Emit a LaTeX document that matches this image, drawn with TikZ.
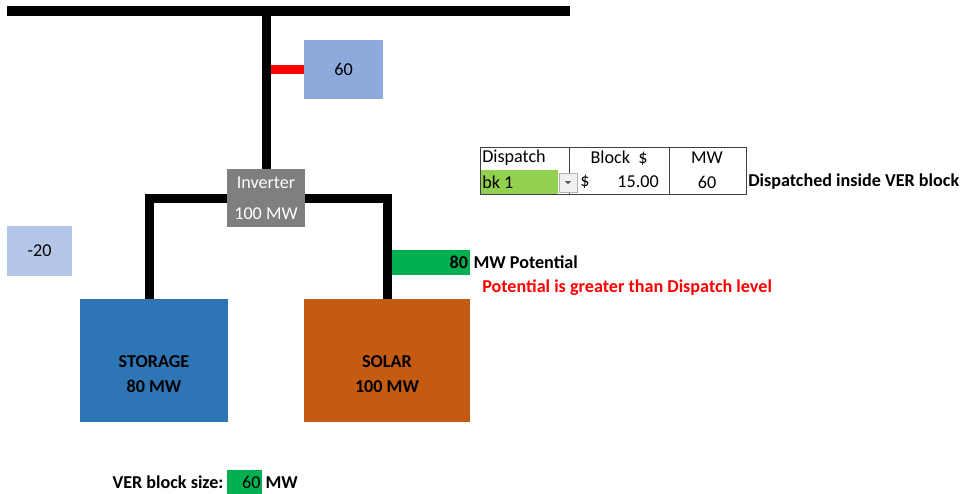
\documentclass[tikz,border=0pt]{standalone}
\usepackage{fontspec}
\setmainfont{Carlito}
\usepackage{xcolor}
\usepackage{tikz}
\usetikzlibrary{positioning}
\definecolor{meterblue}{HTML}{8EA9DB}
\definecolor{netblue}{HTML}{B4C6E7}
\definecolor{invgray}{HTML}{7F7F7F}
\definecolor{potgreen}{HTML}{00B050}
\definecolor{bkgreen}{HTML}{92D050}
\definecolor{storblue}{HTML}{2E75B6}
\definecolor{solarorange}{HTML}{C55A11}
\definecolor{gridline}{HTML}{404040}

\begin{document}
\begin{tikzpicture}[x=0.75pt, y=-0.75pt, font=\fontsize{13.6}{16}\selectfont,
    box/.style={rectangle, inner sep=0pt, text centered},
    wire/.style={line width=6.75pt, line join=miter},
    txt/.style={inner sep=0pt, anchor=west},
    bold/.style={txt, font=\fontsize{13.6}{16}\selectfont\bfseries},
    col/.style={rectangle, draw=gridline, line width=0.75pt, minimum height=35.25pt, inner sep=0pt}]
    \useasboundingbox (0,0) rectangle (963,493);
    \coordinate (busL) at (7,11); \coordinate (busR) at (570,11);
    \node[box, fill=meterblue, minimum width=59.25pt, minimum height=44.25pt] (meter) at (343.5,69.5) {60};
    \node[box, fill=invgray, text=white, minimum width=58.5pt, minimum height=43.5pt, align=center,
          font=\fontsize{13.6}{23}\selectfont] (inv) at (266,198) {Inverter\\100 MW};
    \node[box, fill=netblue, minimum width=48.75pt, minimum height=37.5pt] (net) at (39.5,251) {-20};
    \node[box, fill=storblue, minimum width=111pt, minimum height=92.25pt] (stor) at (154,360.5) {};
    \node[box, fill=solarorange, minimum width=124.5pt, minimum height=92.25pt] (solar) at (387,360.5) {};
    \node[bold, anchor=center, align=center, font=\fontsize{13.6}{18.75}\selectfont\bfseries] (storTxt) at (154,374.5) {STORAGE\\80 MW};
    \node[bold, anchor=center, align=center, font=\fontsize{13.6}{18.75}\selectfont\bfseries] (solarTxt) at (387,374.5) {SOLAR\\100 MW};
    \node[box, fill=potgreen, minimum width=59.25pt, minimum height=18.75pt, text width=56.25pt, align=right,
          font=\fontsize{13.6}{16}\selectfont\bfseries] (pot) at (430.5,262.5) {80};
    \node[bold] (potTxt) [right=2.25pt of pot] {MW Potential};
    \node[bold, text=red] (warn) at (482,288) {Potential is greater than Dispatch level};
    \node[col, minimum width=66.75pt] (colA) at (524.5,170.5) {};
    \node[col, minimum width=75pt] (colB) at (619,170.5) {};
    \node[col, minimum width=57.75pt] (colC) at (707.5,170.5) {};
    \node[box, fill=bkgreen, minimum width=57.75pt, minimum height=18pt, anchor=north west] (bk) at (481,169.5) {};
    \node[box, fill=gray!12, draw=gray!60, line width=0.5pt, minimum width=13.5pt, minimum height=14.25pt] (dd) at (568,182.5) {};
    \fill[gray!70!black] ([xshift=-2.25pt,yshift=1pt]dd.center) -- ++(4.5pt,0) -- ++(-2.25pt,-2.25pt) -- cycle;
    \node[txt] (hDisp) at (482,158) {Dispatch};
    \node[txt, anchor=center] (hBlock) at (619,158) {Block\ \ \$};
    \node[txt, anchor=center] (hMW) at (707,158) {MW};
    \node[txt] (bkTxt) at (482,182) {bk 1};
    \node[txt] (dollar) at (580,182) {\$};
    \node[txt, anchor=east] (price) at (659,182) {15.00};
    \node[txt, anchor=center] (disp) at (707,182) {60};
    \node[bold] (note) at (748,182) {Dispatched inside VER block};
    \node[box, fill=potgreen, minimum width=26.25pt, minimum height=18.75pt, text width=24pt, align=right] (blk) at (244.5,482.5) {60};
    \node[bold] (blkLbl) [left=2.25pt of blk] {VER block size:};
    \node[bold] (blkUnit) [right=2.25pt of blk] {MW};
    \draw[wire, red] (meter.west) -- (meter.west -| inv.north);
    \draw[wire] (inv.north) -- (inv.north |- busL);
    \draw[line width=7.5pt] (busL) -- (busR);
    \draw[wire] (inv.west) -| ([xshift=-3.75pt]stor.north);
    \draw[wire] (inv.east) -| (solar.north);
\end{tikzpicture}
\end{document}
